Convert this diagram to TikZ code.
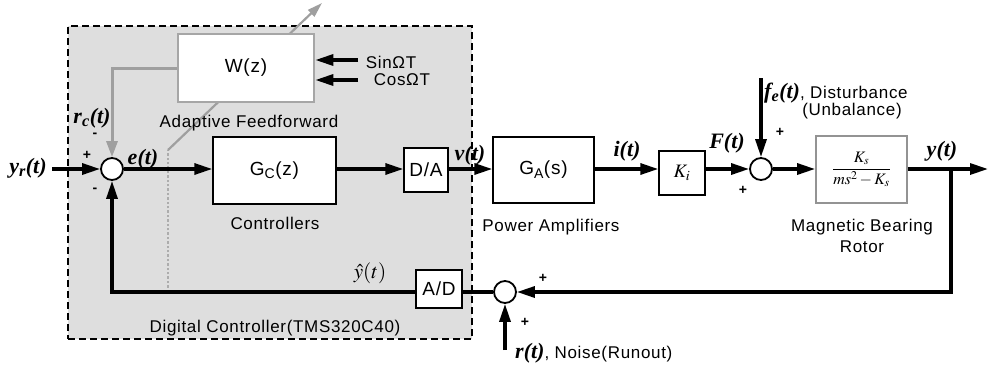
\documentclass[tikz,border=0pt]{standalone}
\usepackage{mathptmx}
\usepackage{fontspec}
\setmainfont{Liberation Sans}
\newfontfamily\lab{Liberation Sans}[LetterSpace=4]
\newfontfamily\sig{Liberation Serif}
\usetikzlibrary{arrows.meta}
\tikzset{
  blk/.style={draw, line width=1.4pt, fill=white, inner sep=0pt},
  sumnode/.style={circle, draw, line width=1.8pt, fill=white, minimum size=22pt, inner sep=0pt},
  sigl/.style={font=\fontsize{22}{24}\sig\bfseries\itshape, inner sep=0pt},
  lbl/.style={font=\fontsize{17}{19}\lab, inner sep=0pt},
  sgn/.style={font=\fontsize{14}{16}\selectfont\bfseries, inner sep=0pt},
  wire/.style={line width=3.2pt},
  arr/.style={wire, -{Triangle[length=18pt,width=11pt]}},
  garr/.style={line width=3pt, draw=gray!75, -{Triangle[length=16pt,width=11pt]}, color=gray!75},
}
\begin{document}
\begin{tikzpicture}[x=1pt,y=-1pt]
\useasboundingbox (0,0) rectangle (989,368);
% digital controller background
\node[draw, dash pattern=on 7pt off 4pt, line width=1.4pt, fill=black!13, minimum width=404pt, minimum height=313pt, inner sep=0pt] (dc) at (270,182.5) {};
% adaptation path (behind W box)
\coordinate (adb) at (168,292);
\coordinate (adm) at (168,150);
\coordinate (adt) at (322,3);
\draw[gray!65, line width=2.4pt, dotted] (adb) -- (adm);
\draw[gray!75, line width=2.2pt, -{Triangle[length=15pt,width=9pt]}] (adm) -- (adt);
% blocks
\node[draw=gray!70, line width=2.6pt, fill=white, minimum width=136pt, minimum height=68pt, inner sep=0pt, font=\fontsize{19}{21}\lab] (w) at (246,68) {W(z)};
\node[blk, minimum width=123pt, minimum height=67pt, font=\fontsize{19}{21}\lab] (gc) at (274.5,170.5) {G\textsubscript{C}(z)};
\node[blk, minimum width=44pt, minimum height=44pt, font=\fontsize{19}{21}\lab] (da) at (426,170) {D/A};
\node[blk, minimum width=101pt, minimum height=66pt, font=\fontsize{19}{21}\lab] (ga) at (543.5,170) {G\textsubscript{A}(s)};
\node[blk, minimum width=46pt, minimum height=44pt, font=\fontsize{19}{21}\selectfont] (ki) at (682,173) {$K_i$};
\node[draw=gray!85, line width=1.8pt, fill=white, minimum width=91pt, minimum height=67pt, inner sep=0pt, font=\fontsize{16}{18}\selectfont] (mb) at (861.5,169.5) {$\displaystyle\frac{K_s}{ms^2-K_s}$};
\node[blk, minimum width=46pt, minimum height=38pt, font=\fontsize{19}{21}\lab] (ad) at (439,289) {A/D};
% summing junctions
\node[sumnode] (s1) at (112,169) {};
\node[sumnode] (s2) at (761,169) {};
\node[sumnode] (s3) at (505,292) {};
% free ends
\coordinate (yin) at (52,169);
\coordinate (yout) at (988,169);
\coordinate (br) at (951,169);
\coordinate (fe) at (761,78);
\coordinate (rn) at (505,350);
\coordinate (sinin) at (358,60);
\coordinate (cosin) at (358,80);
% main path
\draw[arr] (yin) -- (s1);
\draw[arr] (s1) -- (gc.west |- s1);
\draw[arr] (gc.east |- s1) -- (da.west |- s1);
\draw[arr] (da.east |- s1) -- (ga.west |- s1);
\draw[arr] (ga.east |- s1) -- (ki.west |- s1);
\draw[arr] (ki.east |- s1) -- (s2);
\draw[arr] (s2) -- (mb.west |- s1);
\draw[arr] (mb.east |- s1) -- (yout);
\draw[arr] (br) |- (s3);
\draw[wire] (s3) -- (ad.east |- s3);
\draw[arr] (ad.west |- s3) -| (s1);
\draw[arr] (fe) -- (s2);
\draw[arr] (rn) -- (s3);
\draw[arr] (sinin) -- (w.east |- sinin);
\draw[arr] (cosin) -- (w.east |- cosin);
\draw[garr] (w.west) -| (s1);
% signal labels
\node[sigl] (lyr) at (28,168) {y\textsubscript{r}(t)};
\node[sigl] (lrc) at (92,118) {r\textsubscript{c}(t)};
\node[sigl] (le) at (143,159) {e(t)};
\node[sigl] (lv) at (470,155) {v(t)};
\node[sigl] (li) at (627,151) {i(t)};
\node[sigl] (lF) at (727,143) {F(t)};
\node[sigl] (ly) at (942,151) {y(t)};
\node[font=\fontsize{21}{23}\selectfont, inner sep=0pt] (lyh) at (370,273) {$\hat{y}(t)$};
\node[anchor=west, inner sep=0pt] (lfe) at (764,93) {{\fontsize{22}{24}\sig\bfseries\itshape f\textsubscript{e}(t)}{\fontsize{17}{19}\lab, Disturbance}};
\node[anchor=west, inner sep=0pt] (lrn) at (515,353) {{\fontsize{22}{24}\sig\bfseries\itshape r(t)}{\fontsize{17}{19}\lab, Noise(Runout)}};
% signs
\node[sgn] at (87,155) {+};
\node[sgn] at (95,135) {-};
\node[sgn] at (95,190) {-};
\node[sgn] at (743,190) {+};
\node[sgn] at (780,132) {+};
\node[sgn] at (543,278) {+};
\node[sgn] at (525,322) {+};
% text labels
\node[lbl] (lsin) at (391,62) {SinΩT};
\node[lbl] (lcos) at (402,80) {CosΩT};
\node[lbl] (laf) at (249,123) {Adaptive Feedforward};
\node[lbl] (lctl) at (275,223) {Controllers};
\node[lbl] (lpa) at (551,227) {Power Amplifiers};
\node[lbl] (lub) at (852,111) {(Unbalance)};
\node[lbl, align=center] (lmb) at (862,236) {Magnetic Bearing\\[2pt]Rotor};
\node[lbl] (ldc) at (275,328) {Digital Controller(TMS320C40)};
\end{tikzpicture}
\end{document}
